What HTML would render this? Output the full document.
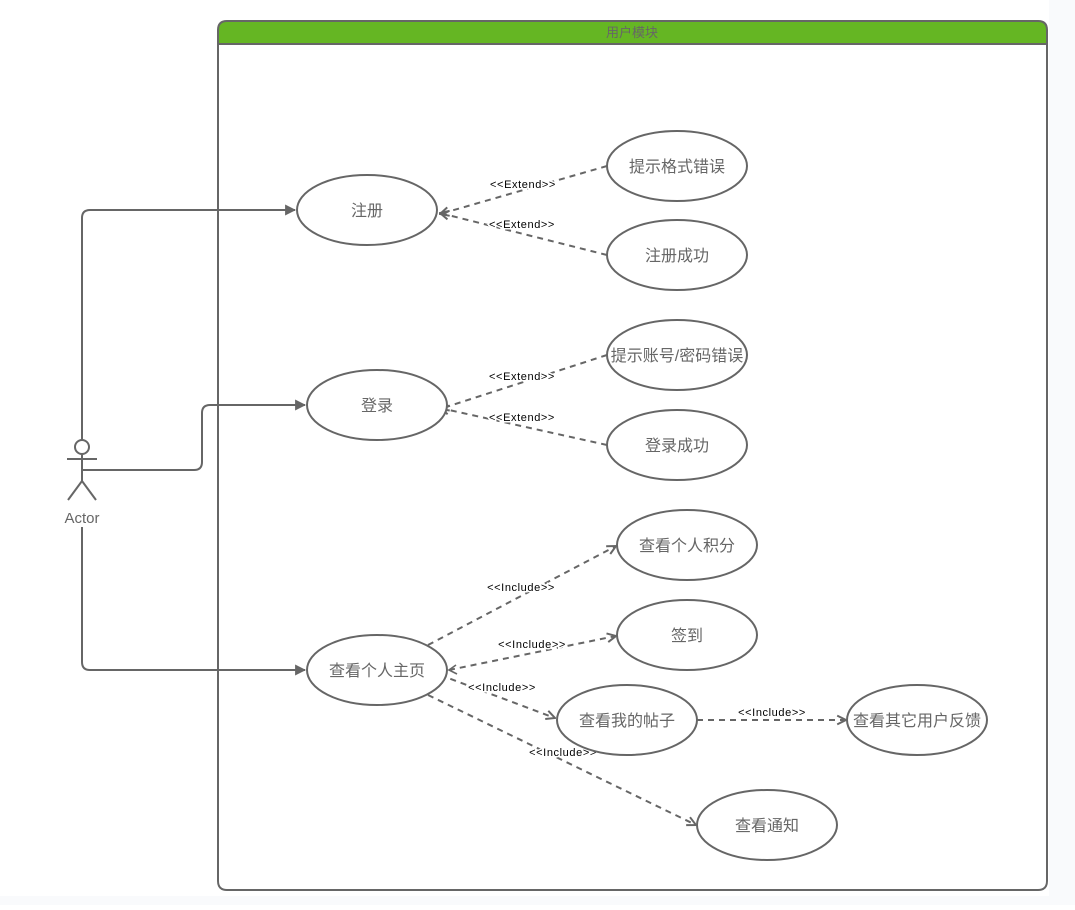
<!DOCTYPE html>
<html><head><meta charset="utf-8"><style>
html,body{margin:0;padding:0;background:#fff;}
body{width:1075px;height:905px;overflow:hidden;position:relative;}
svg text{font-family:"Liberation Sans","Noto Sans CJK SC",sans-serif;}
</style></head><body>
<svg width="1075" height="905" viewBox="0 0 1075 905" xmlns="http://www.w3.org/2000/svg">
<rect x="1049" y="0" width="26" height="905" fill="#f9fafc"/>
<rect x="0" y="896" width="1075" height="9" fill="#f9fafc"/>
<defs>
<marker id="a" viewBox="0 0 10 10" refX="9" refY="5" markerWidth="11" markerHeight="11" markerUnits="userSpaceOnUse" orient="auto">
<path d="M1,1 L9,5 L1,9" fill="none" stroke="#666" stroke-width="1.8"/></marker>
<marker id="f" viewBox="0 0 10 10" refX="9" refY="5" markerWidth="11" markerHeight="11" markerUnits="userSpaceOnUse" orient="auto">
<path d="M0,0 L10,5 L0,10 Z" fill="#666"/></marker>
</defs>
<path d="M218,44 L218,30 Q218,21 227,21 L1038,21 Q1047,21 1047,30 L1047,44 Z" fill="#65b623" stroke="#666" stroke-width="2"/>
<path d="M218,44 L218,881 Q218,890 227,890 L1038,890 Q1047,890 1047,881 L1047,44" fill="none" stroke="#666" stroke-width="2"/>
<line x1="218" y1="44" x2="1047" y2="44" stroke="#666" stroke-width="2"/>
<text x="632" y="37" font-size="13" fill="#666" text-anchor="middle">用户模块</text>
<g stroke="#666" stroke-width="2" fill="none">
<circle cx="82" cy="447" r="7" fill="#fff"/>
<line x1="82" y1="454" x2="82" y2="482"/>
<line x1="67" y1="459" x2="97" y2="459"/>
<line x1="82" y1="481" x2="68" y2="500"/>
<line x1="82" y1="481" x2="96" y2="500"/>
</g>
<text x="82" y="523" font-size="15" fill="#666" text-anchor="middle">Actor</text>
<g stroke="#666" stroke-width="2" fill="none">
<path d="M82,440 L82,218 Q82,210 90,210 L295,210" marker-end="url(#f)"/>
<path d="M82,470 L194,470 Q202,470 202,462 L202,413 Q202,405 210,405 L305,405" marker-end="url(#f)"/>
<path d="M82,527 L82,662 Q82,670 90,670 L305,670" marker-end="url(#f)"/>
</g>
<g stroke="#666" stroke-width="2" fill="none" stroke-dasharray="6,5">
<path d="M607,166 L440,214" marker-end="url(#a)"/>
<path d="M607,255 L440,213" marker-end="url(#a)"/>
<path d="M607,355 L440,409" marker-end="url(#a)"/>
<path d="M607,445 L440,408" marker-end="url(#a)"/>
<path d="M428,645 L616,546" marker-end="url(#a)"/>
<path d="M449,670 L616,636" marker-end="url(#a)"/>
<path d="M440,675 L555,718" marker-end="url(#a)"/>
<path d="M428,695 L696,825" marker-end="url(#a)"/>
<path d="M697,720 L846,720" marker-end="url(#a)"/>
</g>
<path d="M456,665 L449,670 L457,674" fill="none" stroke="#666" stroke-width="1.6"/>
<g font-size="11" fill="#000" text-anchor="middle" letter-spacing="0.6" stroke="#fff" stroke-width="3" paint-order="stroke">
<text x="523" y="188">&lt;&lt;Extend&gt;&gt;</text>
<text x="522" y="228">&lt;&lt;Extend&gt;&gt;</text>
<text x="522" y="380">&lt;&lt;Extend&gt;&gt;</text>
<text x="522" y="421">&lt;&lt;Extend&gt;&gt;</text>
<text x="521" y="591">&lt;&lt;Include&gt;&gt;</text>
<text x="532" y="648">&lt;&lt;Include&gt;&gt;</text>
<text x="502" y="691">&lt;&lt;Include&gt;&gt;</text>
<text x="563" y="756">&lt;&lt;Include&gt;&gt;</text>
<text x="772" y="716">&lt;&lt;Include&gt;&gt;</text>
</g>
<g stroke="#666" stroke-width="2" fill="#fff">
<ellipse cx="367" cy="210" rx="70" ry="35"/>
<ellipse cx="677" cy="166" rx="70" ry="35"/>
<ellipse cx="677" cy="255" rx="70" ry="35"/>
<ellipse cx="377" cy="405" rx="70" ry="35"/>
<ellipse cx="677" cy="355" rx="70" ry="35"/>
<ellipse cx="677" cy="445" rx="70" ry="35"/>
<ellipse cx="687" cy="545" rx="70" ry="35"/>
<ellipse cx="687" cy="635" rx="70" ry="35"/>
<ellipse cx="377" cy="670" rx="70" ry="35"/>
<ellipse cx="627" cy="720" rx="70" ry="35"/>
<ellipse cx="917" cy="720" rx="70" ry="35"/>
<ellipse cx="767" cy="825" rx="70" ry="35"/>
</g>
<g font-size="16" fill="#666" text-anchor="middle">
<text x="367" y="216">注册</text>
<text x="677" y="172">提示格式错误</text>
<text x="677" y="261">注册成功</text>
<text x="377" y="411">登录</text>
<text x="677" y="361">提示账号/密码错误</text>
<text x="677" y="451">登录成功</text>
<text x="687" y="551">查看个人积分</text>
<text x="687" y="641">签到</text>
<text x="377" y="676">查看个人主页</text>
<text x="627" y="726">查看我的帖子</text>
<text x="917" y="726">查看其它用户反馈</text>
<text x="767" y="831">查看通知</text>
</g>
</svg>
</body></html>
